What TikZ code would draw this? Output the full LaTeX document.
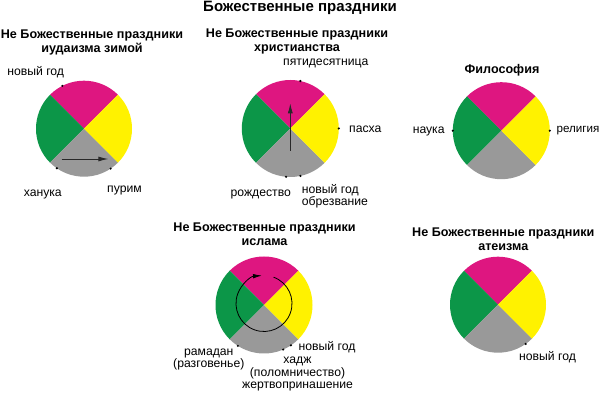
\documentclass[tikz,border=0pt]{standalone}
\usepackage{fontspec}
\setmainfont{Liberation Sans}
\usetikzlibrary{arrows.meta}
\definecolor{cmag}{RGB}{222,22,128}
\definecolor{cyel}{RGB}{255,242,0}
\definecolor{cgrn}{RGB}{12,150,72}
\definecolor{cgry}{RGB}{153,153,153}
\definecolor{carr}{RGB}{40,40,40}
\tikzset{
  lbl/.style={inner sep=0pt, align=center, font=\fontsize{12.2}{12.4}\selectfont},
  ttl/.style={inner sep=0pt, align=center, font=\bfseries\fontsize{12.6}{14.4}\selectfont},
  dotm/.style={fill=black, inner sep=0pt, minimum size=2.4pt, circle},
  arr/.style={draw=carr, line width=0.9pt, -{Latex[length=10pt,width=5pt]}},
}
\newcommand{\mypie}[2]{%
  \fill[cmag] (#1) -- ++(45:#2) arc[start angle=45,end angle=135,radius=#2] -- cycle;
  \fill[cgrn] (#1) -- ++(135:#2) arc[start angle=135,end angle=225,radius=#2] -- cycle;
  \fill[cgry] (#1) -- ++(225:#2) arc[start angle=225,end angle=315,radius=#2] -- cycle;
  \fill[cyel] (#1) -- ++(-45:#2) arc[start angle=-45,end angle=45,radius=#2] -- cycle;
}
\begin{document}
\begin{tikzpicture}[x=1pt,y=1pt]
\useasboundingbox (0,0) rectangle (600,396);
\fill[white] (0,0) rectangle (600,396);
\node[inner sep=0pt, font=\bfseries\fontsize{15}{17}\selectfont] (main) at (300,388.5) {Божественные праздники};

% circle 1 : judaism
\coordinate (c1) at (84,267.3);
\mypie{c1}{48}
\node[ttl] (t1) at (92,353.8) {Не Божественные праздники\\иудаизма зимой};
\node[dotm] (d11) at ([shift={(116.8:48)}]c1) {};
\node[dotm] (d12) at ([shift={(-124.4:48)}]c1) {};
\node[dotm] (d13) at ([shift={(-56.3:48)}]c1) {};
\node[lbl] (l11) at (35.7,324.3) {новый год};
\node[lbl] (l12) at (42.8,202) {ханука};
\node[lbl] (l13) at (124.5,206) {пурим};
\coordinate (a1s) at ([shift={(-22.3,-30.3)}]c1);
\coordinate (a1e) at ([shift={(24.3,-30.3)}]c1);
\draw[arr] (a1s) -- (a1e);

% circle 2 : christianity
\coordinate (c2) at (290.3,267.5);
\mypie{c2}{48.5}
\node[ttl] (t2) at (297,354.3) {Не Божественные праздники\\христианства};
\node[dotm] (d21) at ([shift={(78:48.5)}]c2) {};
\node[dotm] (d22) at ([shift={(0:48.5)}]c2) {};
\node[dotm] (d23) at ([shift={(-95:48.5)}]c2) {};
\node[dotm] (d24) at ([shift={(-78:48.5)}]c2) {};
\node[lbl] (l21) at (325.8,332.7) {пятидесятница};
\node[lbl] (l22) at (365.3,266.7) {пасха};
\node[lbl] (l23) at (260.8,202) {рождество};
\node[lbl, anchor=west, align=left] (l24) at (301.7,199.7) {новый год\\обрезвание};
\coordinate (a2s) at ([shift={(0,-22.5)}]c2);
\coordinate (a2e) at ([shift={(0,25.2)}]c2);
\draw[arr] (a2s) -- (a2e);

% circle 3 : philosophy
\coordinate (c3) at (501.3,265.3);
\mypie{c3}{48.5}
\node[ttl] (t3) at (502,326) {Философия};
\node[dotm] (d31) at ([shift={(180:48.5)}]c3) {};
\node[dotm] (d32) at ([shift={(0:48.5)}]c3) {};
\node[lbl] (l31) at (428.7,265) {наука};
\node[lbl, anchor=east, font=\fontsize{11.6}{12.4}\selectfont] (l32) at (599.6,265) {религия};

% circle 4 : islam
\coordinate (c4) at (264,91);
\mypie{c4}{48.5}
\node[ttl] (t4) at (264.5,161.5) {Не Божественные праздники\\ислама};
\node[dotm] (d41) at ([shift={(-122.6:48.5)}]c4) {};
\node[dotm] (d42) at ([shift={(-66.7:48.5)}]c4) {};
\node[dotm] (d43) at ([shift={(-56.3:48.5)}]c4) {};
\node[lbl] (l41) at (208.8,36.7) {рамадан\\(разговенье)};
\node[lbl] (l42) at (327,49) {новый год};
\node[lbl] (l43) at (297.5,21.7) {хадж\\(поломничество)\\жертвопринашение};
\coordinate (c4i) at (264,92.5);
\draw[draw=black, line width=0.8pt, -{Latex[length=9pt,width=4.5pt]}] ([shift={(70:28)}]c4i) arc[start angle=70, end angle=-266, radius=28];

% circle 5 : atheism
\coordinate (c5) at (498,91.3);
\mypie{c5}{48}
\node[ttl] (t5) at (503.3,156.7) {Не Божественные праздники\\атеизма};
\node[dotm] (d51) at ([shift={(-54.8:48)}]c5) {};
\node[lbl] (l51) at (547.5,39.3) {новый год};
\end{tikzpicture}
\end{document}
